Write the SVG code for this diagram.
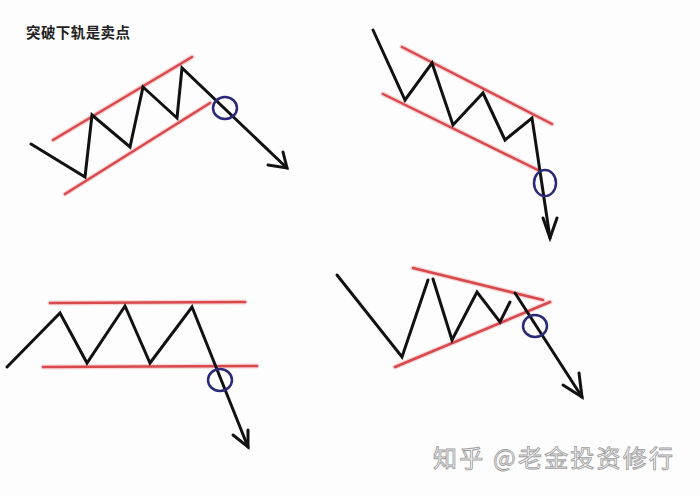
<svg xmlns="http://www.w3.org/2000/svg" width="700" height="496" viewBox="0 0 700 496">
<style>
.zz{fill:none;stroke:#111;stroke-width:3;stroke-linejoin:miter;stroke-linecap:round}
.rd{fill:none;stroke:#d8484c;stroke-width:2.5;stroke-linecap:round}
.rdg{fill:none;stroke:#f4b8b8;stroke-width:5;stroke-linecap:round;opacity:0.6}
.ci{fill:none;stroke:#2a2a78;stroke-width:2.5}
.title{font-family:"Noto Sans CJK SC","Liberation Sans",sans-serif;font-size:14.5px;font-weight:bold;fill:#222}
.wm{font-family:"Noto Sans CJK SC","Liberation Sans",sans-serif;font-size:24px;fill:#fff;stroke:#a0a0a0;stroke-width:0.9}
</style>
<rect width="700" height="496" fill="#fdfdfd"/>
<text class="title" x="26" y="38" textLength="104">突破下轨是卖点</text>

<g id="panel1">
<line class="rdg" x1="53" y1="140" x2="192" y2="57"/>
<line class="rdg" x1="65" y1="194" x2="210" y2="103"/>
<line class="rd" x1="53" y1="140" x2="192" y2="57"/>
<line class="rd" x1="65" y1="194" x2="210" y2="103"/>
<polyline class="zz" points="31,144 85,177 92,115 130,147 143,87 177,118 182,68 287,168"/>
<polyline class="zz" points="268,165 287,168 283,152"/>
<ellipse class="ci" cx="225" cy="108" rx="12" ry="11"/>
</g>

<g id="panel2">
<line class="rdg" x1="402" y1="47" x2="552" y2="124"/>
<line class="rdg" x1="383" y1="94" x2="538" y2="170"/>
<line class="rd" x1="402" y1="47" x2="552" y2="124"/>
<line class="rd" x1="383" y1="94" x2="538" y2="170"/>
<polyline class="zz" points="373,30 405,100 432,63 453,125 483,93 505,140 532,118 550,238"/>
<polyline class="zz" points="543,218 550,238 557,218"/>
<ellipse class="ci" cx="545" cy="183" rx="11" ry="13"/>
</g>

<g id="panel3">
<line class="rdg" x1="50" y1="303" x2="245" y2="302"/>
<line class="rdg" x1="43" y1="367" x2="257" y2="366"/>
<line class="rd" x1="50" y1="303" x2="245" y2="302"/>
<line class="rd" x1="43" y1="367" x2="257" y2="366"/>
<polyline class="zz" points="7,367 60,313 87,363 125,306 150,363 192,307 248,447"/>
<polyline class="zz" points="233,435 248,447 248,430"/>
<ellipse class="ci" cx="220" cy="380" rx="12" ry="11"/>
</g>

<g id="panel4">
<line class="rdg" x1="413" y1="268" x2="543" y2="300"/>
<line class="rdg" x1="395" y1="367" x2="550" y2="302"/>
<line class="rd" x1="413" y1="268" x2="543" y2="300"/>
<line class="rd" x1="395" y1="367" x2="550" y2="302"/>
<polyline class="zz" points="337,275 402,357 428,280"/>
<polyline class="zz" points="433,279 452,340 477,292 500,322 510,302"/>
<polyline class="zz" points="515,293 582,397"/>
<polyline class="zz" points="563,385 582,397 579,373"/>
<ellipse class="ci" cx="535" cy="326" rx="12" ry="11"/>
</g>

<text class="wm" x="433" y="467" textLength="240">知乎 @老金投资修行</text>
</svg>
